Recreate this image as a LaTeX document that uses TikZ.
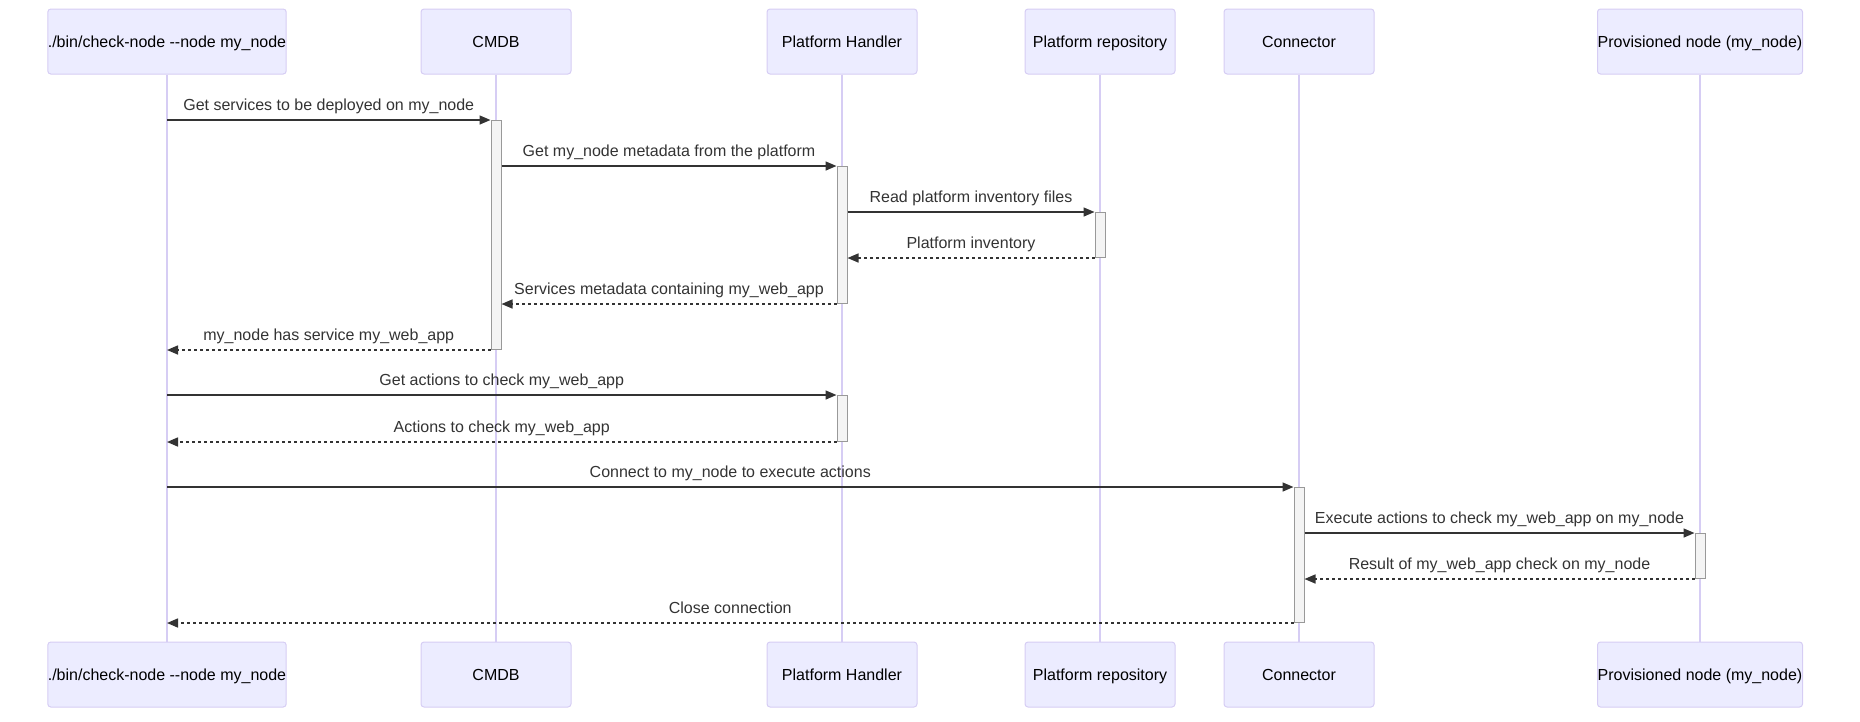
\documentclass[tikz,border=0pt]{standalone}
\usepackage{fontspec}
\setmainfont{Liberation Sans}
\usetikzlibrary{arrows.meta, positioning}

\definecolor{actfill}{HTML}{ECECFF}
\definecolor{actline}{HTML}{D6CDF4}
\definecolor{msgcol}{HTML}{333333}
\definecolor{barfill}{HTML}{F4F4F4}
\definecolor{barline}{HTML}{999999}

\begin{document}
\begin{tikzpicture}[x=1pt, y=-1pt,
  actor/.style={draw=actline, fill=actfill, rounded corners=3pt, line width=1pt,
    minimum height=65pt, inner sep=0pt, text height=11.5pt, text depth=0pt,
    font=\fontsize{16}{19}\selectfont},
  bar/.style={draw=barline, fill=barfill, line width=1pt, minimum width=10pt,
    inner sep=0pt, anchor=north},
  msg/.style={draw=msgcol, line width=1.5pt, -{Triangle[length=11pt, width=9pt]}},
  reply/.style={msg, dash pattern=on 3pt off 3pt},
  lbl/.style={font=\fontsize{16}{19}\selectfont, text=msgcol, anchor=base,
    yshift=10pt, inner sep=0pt}]
\useasboundingbox (0,0) rectangle (1860,721);

% participants, top and bottom, with their lifelines
\foreach \n/\x/\w/\t in {user/167/235/{./bin/check-node -\kern0pt-node my\_node},
    cmdb/496/150/{CMDB}, ph/842/150/{Platform Handler},
    repo/1100/150/{Platform repository}, conn/1299/150/{Connector},
    prov/1700/205/{Provisioned node (my\_node)}} {
  \node [actor, minimum width=\w pt] (\n-t) at (\x,41.5)  {\t};
  \node [actor, minimum width=\w pt] (\n-b) at (\x,674.5) {\t};
  \draw [actline, line width=1.4pt] (\n-t) -- (\n-b);
}

% activations
\node [bar, minimum height=229pt] (actA) at (cmdb-t |- 0,120) {};
\node [bar, minimum height=137pt] (actB) at (ph-t |- 0,166)   {};
\node [bar, minimum height=45pt]  (actC) at (repo-t |- 0,212) {};
\node [bar, minimum height=46pt]  (actD) at (ph-t |- 0,395)   {};
\node [bar, minimum height=135pt] (actE) at (conn-t |- 0,487) {};
\node [bar, minimum height=45pt]  (actF) at (prov-t |- 0,533) {};

% messages
\draw [msg]   (user-t |- actA.north) -- (actA.north west)
  node [lbl, midway] {Get services to be deployed on my\_node};
\draw [msg]   (actA.east |- actB.north) -- (actB.north west)
  node [lbl, midway] {Get my\_node metadata from the platform};
\draw [msg]   (actB.east |- actC.north) -- (actC.north west)
  node [lbl, midway] {Read platform inventory files};
\draw [reply] (actC.south west) -- (actB.east |- actC.south)
  node [lbl, midway] {Platform inventory};
\draw [reply] (actB.south west) -- (actA.east |- actB.south)
  node [lbl, midway] {Services metadata containing my\_web\_app};
\draw [reply] (actA.south west) -- (user-t |- actA.south)
  node [lbl, midway] {my\_node has service my\_web\_app};
\draw [msg]   (user-t |- actD.north) -- (actD.north west)
  node [lbl, midway] {Get actions to check my\_web\_app};
\draw [reply] (actD.south west) -- (user-t |- actD.south)
  node [lbl, midway] {Actions to check my\_web\_app};
\draw [msg]   (user-t |- actE.north) -- (actE.north west)
  node [lbl, midway] {Connect to my\_node to execute actions};
\draw [msg]   (actE.east |- actF.north) -- (actF.north west)
  node [lbl, midway] {Execute actions to check my\_web\_app on my\_node};
\draw [reply] (actF.south west) -- (actE.east |- actF.south)
  node [lbl, midway] {Result of my\_web\_app check on my\_node};
\draw [reply] (actE.south west) -- (user-t |- actE.south)
  node [lbl, midway] {Close connection};
\end{tikzpicture}
\end{document}
